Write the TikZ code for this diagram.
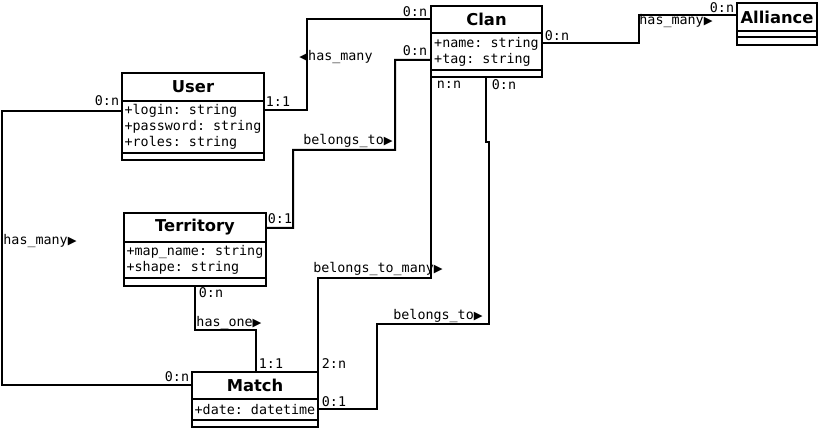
\documentclass[tikz,border=0pt]{standalone}
\usepackage{fontspec}
\setsansfont{DejaVu Sans}
\setmonofont{DejaVu Sans Mono}
\newfontfamily\arrowfont{DejaVu Sans}
\usepackage{tikz}
\usetikzlibrary{calc}
\usetikzlibrary{positioning}
\newdimen\pxu \pxu=0.02cm
\newcommand{\toright}{{\arrowfont\fontsize{6.5}{7}\selectfont ▶}}
\newcommand{\toleft}{{\arrowfont\fontsize{6.5}{7}\selectfont ◀}}
\tikzstyle{ctitle} = [draw, line width=2\pxu, outer sep=0pt, inner sep=0pt, anchor=north west, font=\sffamily\bfseries\fontsize{9.3}{11}\selectfont]
\tikzstyle{cattr} = [draw, line width=2\pxu, outer sep=0pt, inner xsep=1pt, inner ysep=0pt, align=left, font=\ttfamily\fontsize{7.6}{9.1}\selectfont]
\tikzstyle{cops} = [draw, line width=2\pxu, outer sep=0pt, inner sep=0pt, minimum height=7\pxu]
\tikzstyle{mult} = [inner sep=0pt, font=\ttfamily\fontsize{7.6}{9.1}\selectfont]
\tikzstyle{assoc} = [line width=2\pxu]

\begin{document}
\begin{tikzpicture}[x=0.02cm, y=-0.02cm]
    \useasboundingbox (0,0) rectangle (819,428);

    % classes
    \node[ctitle, minimum width=111\pxu, minimum height=27\pxu] (clan_title) at (431,6) {Clan};
    \node[cattr, minimum width=111\pxu, minimum height=37\pxu, below=0pt of clan_title] (clan_attr) {+name: string\\+tag: string};
    \node[cops, minimum width=111\pxu, below=0pt of clan_attr] (clan_ops) {};

    \node[ctitle, minimum width=142\pxu, minimum height=28\pxu] (user_title) at (122,73) {User};
    \node[cattr, minimum width=142\pxu, minimum height=52\pxu, below=0pt of user_title] (user_attr) {+login: string\\+password: string\\+roles: string};
    \node[cops, minimum width=142\pxu, below=0pt of user_attr] (user_ops) {};

    \node[ctitle, minimum width=142\pxu, minimum height=29\pxu] (territory_title) at (124,213) {Territory};
    \node[cattr, minimum width=142\pxu, minimum height=36\pxu, below=0pt of territory_title] (territory_attr) {+map\_name: string\\+shape: string};
    \node[cops, minimum width=142\pxu, minimum height=8\pxu, below=0pt of territory_attr] (territory_ops) {};

    \node[ctitle, minimum width=126\pxu, minimum height=27\pxu] (match_title) at (192,372) {Match};
    \node[cattr, minimum width=126\pxu, minimum height=21\pxu, below=0pt of match_title] (match_attr) {+date: datetime};
    \node[cops, minimum width=126\pxu, below=0pt of match_attr] (match_ops) {};

    \node[ctitle, minimum width=80\pxu, minimum height=28\pxu] (alliance_title) at (737,3) {Alliance};
    \node[cops, minimum width=80\pxu, minimum height=6\pxu, below=0pt of alliance_title] (alliance_attr) {};
    \node[cops, minimum width=80\pxu, minimum height=8\pxu, below=0pt of alliance_attr] (alliance_ops) {};

    % associations
    \draw[assoc] ($(user_attr.north east)+(0,9)$) -| ($(clan_title.north west)+(-124,13)$) -- ($(clan_title.north west)+(0,13)$);
    \draw[assoc] ($(territory_title.north east)+(0,15)$) -| (293,150) -| (395,60) -- ($(clan_attr.north west)+(0,27)$);
    \draw[assoc] ($(clan_attr.north east)+(0,10)$) -| (639,15) -- ($(alliance_title.north west)+(0,12)$);
    \draw[assoc] ($(user_attr.north west)+(0,10)$) -| ($(match_title.north west)+(-190,13)$) -- ($(match_title.north west)+(0,13)$);
    \draw[assoc] ($(territory_ops.south west)+(71,0)$) |- (256,330) -- ($(match_title.north west)+(64,0)$);
    \draw[assoc] (clan_ops.south west) |- (318,278) -- (match_title.north east);
    \draw[assoc] ($(clan_ops.south west)+(55,0)$) |- (489,142) |- (377,324) |- ($(match_attr.north east)+(0,10)$);

    % labels
    \node[mult] (m_clan_user) at (415,12) {0:n};
    \node[mult] (m_user_clan) at (278,102) {1:1};
    \node[mult] (n_user_clan) at (336,57) {\toleft has\_many};

    \node[mult] (m_clan_terr) at (415,51) {0:n};
    \node[mult] (m_terr_clan) at (280,219) {0:1};
    \node[mult] (n_terr_clan) at (348,141) {belongs\_to\toright};

    \node[mult] (m_clan_all) at (557,36) {0:n};
    \node[mult] (m_all_clan) at (722,8) {0:n};
    \node[mult] (n_clan_all) at (676,21) {has\_many\toright};

    \node[mult] (m_user_match) at (107,101) {0:n};
    \node[mult] (m_match_user) at (177,377) {0:n};
    \node[mult] (n_user_match) at (40,241) {has\_many\toright};

    \node[mult] (m_terr_match) at (211,293) {0:n};
    \node[mult] (m_match_terr) at (271,364) {1:1};
    \node[mult] (n_terr_match) at (229,323) {has\_one\toright};

    \node[mult] (m_clan_many) at (449,85) {n:n};
    \node[mult] (m_match_many) at (334,364) {2:n};
    \node[mult] (n_clan_many) at (378,269) {belongs\_to\_many\toright};

    \node[mult] (m_clan_one) at (504,85) {0:n};
    \node[mult] (m_match_one) at (334,402) {0:1};
    \node[mult] (n_clan_one) at (438,316) {belongs\_to\toright};
\end{tikzpicture}
\end{document}
